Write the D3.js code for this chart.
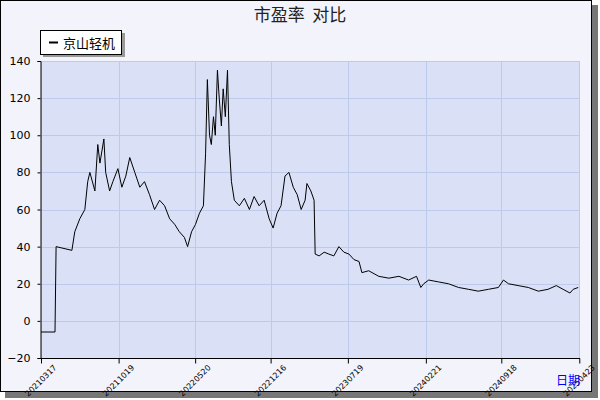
<!DOCTYPE html>
<html><head><meta charset="utf-8">
<script src="https://cdn.jsdelivr.net/npm/d3@7"></script>
<style>body{margin:0;background:#fff}svg{font-family:"Noto Sans CJK SC","DejaVu Sans",sans-serif}</style>
</head><body>
<svg width="600" height="400"></svg>
<script>
// days since 2021-03-17, and P/E values
var dayOffsets = [0,39,42,86,94,108,122,130,136,150,158,164,175,180,191,200,214,225,236,247,261,275,288,302,316,330,344,358,372,385,399,408,419,430,441,452,458,463,469,474,480,485,491,496,502,507,513,519,524,530,538,552,566,580,593,607,621,635,646,657,668,679,690,702,713,724,735,740,751,760,763,774,788,801,815,829,843,857,871,885,893,912,940,968,996,1023,1045,1057,1065,1079,1106,1134,1162,1190,1217,1245,1273,1287,1301,1328,1356,1384,1411,1434,1453,1472,1481,1495];
var peValues = [-6,-6,40,38,48,55,60,75,80,70,95,85,98,80,70,75,82,72,78,88,80,72,75,68,60,65,62,55,52,48,45,40,48,52,58,62,90,130,100,95,110,100,135,120,105,125,110,135,95,75,65,62,66,60,67,62,65,55,50,58,62,78,80,72,68,60,65,74,70,65,36,35,37,36,35,40,37,36,33,32,26,27,24,23,24,22,24,18,20,22,21,20,18,17,16,17,18,22,20,19,18,16,17,19,17,15,17,18];
var tickLabels = ["20210317","20211019","20220520","20221216","20230719","20240221","20240918","20250423"];
var yTicks = [-20,0,20,40,60,80,100,120,140];

var svg = d3.select("svg");
var parse = d3.timeParse("%Y%m%d");
var start = parse("20210317");
var data = dayOffsets.map(function(d, i) { return {date: d3.timeDay.offset(start, d), v: peValues[i]}; });

// frame with shadow
svg.append("rect").attr("x", 5).attr("y", 5).attr("width", 593).attr("height", 393).attr("fill", "#777");
svg.append("rect").attr("x", 0.5).attr("y", 0.5).attr("width", 591).attr("height", 391).attr("fill", "#f2f3fb").attr("stroke", "#000");

var L = 41, R = 580, T = 61, B = 358;
var x = d3.scaleTime().domain([start, parse("20250425")]).range([L, R]);
var y = d3.scaleLinear().domain([-20, 140]).range([B, T]);

svg.append("rect").attr("x", L).attr("y", T).attr("width", R - L).attr("height", B - T).attr("fill", "#dae1f6");

var grid = svg.append("g").attr("stroke", "#bccaec").attr("stroke-width", 1);
yTicks.forEach(function(t) {
  grid.append("line").attr("x1", L).attr("x2", R).attr("y1", Math.round(y(t)) + 0.5).attr("y2", Math.round(y(t)) + 0.5);
});
tickLabels.forEach(function(t) {
  var px = Math.round(x(parse(t))) + 0.5;
  grid.append("line").attr("x1", px).attr("x2", px).attr("y1", T).attr("y2", B);
});

var line = d3.line().x(function(d) { return x(d.date); }).y(function(d) { return y(d.v); });
svg.append("path").datum(data).attr("d", line).attr("fill", "none").attr("stroke", "#000").attr("stroke-width", 1);

var ya = svg.append("g").attr("transform", "translate(" + (L - 0.5) + ",0)")
  .call(d3.axisLeft(y).tickValues(yTicks).tickSize(3).tickPadding(7));
ya.selectAll("text").attr("font-size", 11).attr("font-family", "DejaVu Sans");

var xa = svg.append("g").attr("transform", "translate(0," + (B + 0.5) + ")")
  .call(d3.axisBottom(x).tickValues(tickLabels.map(parse)).tickSize(5).tickFormat(d3.timeFormat("%Y%m%d")));
xa.selectAll("text").attr("font-size", 8).attr("font-family", "DejaVu Sans")
  .attr("text-anchor", "end").attr("transform", "translate(6,0) rotate(-45)");
xa.select(".domain").attr("d", "M" + L + ",0H" + R);

svg.append("text").attr("x", 300).attr("y", 21).attr("text-anchor", "middle").attr("font-size", 17).attr("fill", "#222")
  .style("white-space", "pre").text("市盈率  对比");

svg.append("rect").attr("x", 43).attr("y", 33).attr("width", 82).attr("height", 24).attr("fill", "#999");
svg.append("rect").attr("x", 40.5).attr("y", 30.5).attr("width", 81).attr("height", 24).attr("fill", "#fff").attr("stroke", "#000");
svg.append("line").attr("x1", 49).attr("x2", 58).attr("y1", 42.5).attr("y2", 42.5).attr("stroke", "#000").attr("stroke-width", 2);
svg.append("text").attr("x", 63).attr("y", 48).attr("font-size", 13).text("京山轻机");

svg.append("text").attr("x", 556).attr("y", 385).attr("font-size", 12).attr("fill", "#0000ff").text("日期");
</script>
</body></html>
